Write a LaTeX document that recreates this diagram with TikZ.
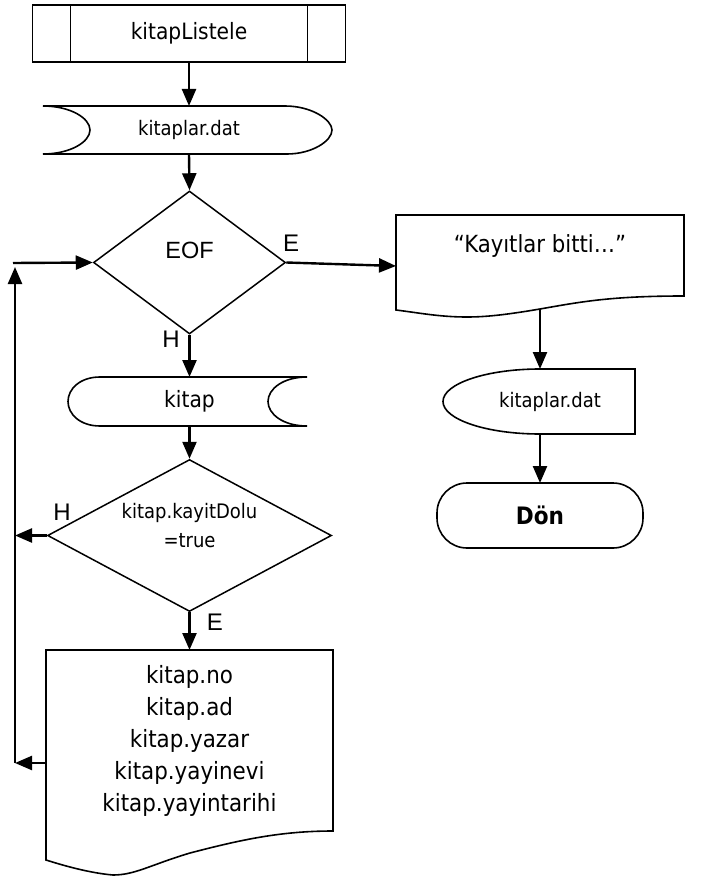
\documentclass[tikz,border=0pt]{standalone}
\usepackage{fontspec}
\setmainfont{DejaVu Sans Condensed}
\newfontfamily\arial{Liberation Sans}
\usetikzlibrary{arrows.meta,shapes.geometric}

\begin{document}
\begin{tikzpicture}[x=1pt,y=-1pt]
    \tikzset{sekil/.style = {draw,line width=1.6pt}}
    \tikzset{kutu/.style = {inner sep=0pt,outer sep=0pt}}
    \tikzset{karar/.style = {diamond,draw,line width=1.5pt,inner sep=0pt}}
    \tikzset{ok/.style = {-{Triangle[length=17pt,width=14pt]},line width=2.4pt}}
    \tikzset{yazi/.style = {font=\fontsize{#1pt}{#1pt}\selectfont}}
    \tikzset{etiket/.style = {inner sep=0pt,font=\arial\fontsize{24pt}{24pt}\selectfont}}
    \useasboundingbox (0,0) rectangle (723,877);
    % sekiller
    \node[kutu,sekil,minimum width=313pt,minimum height=57pt,yazi=22.5] (baslat) at (189,33.5) {kitapListele};
    \draw[sekil] ([xshift=38pt]baslat.north west) -- ([xshift=38pt]baslat.south west);
    \draw[sekil] ([xshift=-38pt]baslat.north east) -- ([xshift=-38pt]baslat.south east);
    \node[kutu,minimum width=289pt,minimum height=48pt,yazi=20] (dosya) at (189,130) {kitaplar.dat};
    \draw[sekil] (43,106) -- (285,106) .. controls (312,106) and (332,120) .. (332,130)
        .. controls (332,141) and (312,154) .. (287,154) -- (43,154)
        .. controls (70,154) and (90,142) .. (90,130) .. controls (90,118) and (70,106) .. cycle;
    \node[karar,minimum width=192pt,minimum height=143pt] (eof) at (189.5,262.5) {};
    \node[kutu,font=\arial\fontsize{23.5pt}{23.5pt}\selectfont] (eofyazi) at (189.5,250) {EOF};
    \node[kutu,minimum width=288pt,text height=37pt,text depth=45pt,yazi=23.6] (bitti) at (540,256) {“Kayıtlar bitti…”};
    \draw[sekil] (396,215) -- (684,215) -- (684,296) .. controls (610,296) and (580,302) .. (540,309)
        .. controls (505,315) and (485,317) .. (467,317) .. controls (440,317) and (420,313) .. (396,310) -- cycle;
    \node[kutu,minimum width=239pt,minimum height=49pt,yazi=22.5] (kitap) at (189.5,401.5) {kitap};
    \draw[sekil] (100,377) -- (307,377) .. controls (283,377) and (268,389) .. (268,401.5)
        .. controls (268,414) and (283,426) .. (307,426) -- (100,426)
        .. controls (80,426) and (68,414) .. (68,401.5) .. controls (68,389) and (80,377) .. cycle;
    \node[karar,minimum width=284pt,minimum height=152pt] (kayit) at (189.5,535.5) {};
    \node[kutu,align=center,font=\fontsize{20pt}{29pt}\selectfont] (kayityazi) at (189.5,526) {kitap.kayitDolu\\=true};
    \node[kutu,minimum width=287pt,minimum height=181pt,align=center,font=\fontsize{23.8pt}{32pt}\selectfont] (bilgi) at (189.5,740.5)
        {kitap.no\\kitap.ad\\kitap.yazar\\kitap.yayinevi\\kitap.yayintarihi};
    \draw[sekil] (46,650) -- (333,650) -- (333,831) .. controls (280,831) and (240,840) .. (190,853)
        .. controls (150,865) and (135,875) .. (113,875) .. controls (90,873) and (65,866) .. (46,860) -- cycle;
    \node[kutu,minimum width=190pt,minimum height=65pt,yazi=20] (dosya2) at (540,401.5) {\hspace*{20pt}kitaplar.dat};
    \draw[sekil] (540,369) -- (635,369) -- (635,434) -- (540,434)
        .. controls (486.4,434) and (443,419.4) .. (443,401.5) .. controls (443,383.6) and (486.4,369) .. cycle;
    \node[kutu,sekil,rounded corners=30pt,minimum width=206pt,minimum height=65pt,font=\bfseries\fontsize{24pt}{24pt}\selectfont] (don) at (540,515.5) {Dön};
    % etiketler
    \node[etiket] (e1) at (291,243) {E};
    \node[etiket] (h1) at (171,339) {H};
    \node[etiket] (h2) at (62,512) {H};
    \node[etiket] (e2) at (215,622) {E};
    % baglantilar
    \coordinate (donus) at (15,763);
    \coordinate (donusust) at (15,267);
    \coordinate (donusbas) at (13,263);
    \coordinate (dip) at (540,309);
    \draw[ok] (baslat.south) -- (dosya.north);
    \draw[ok] (dosya.south) -- (eof.north);
    \draw[ok] (eof.east) -- ([yshift=-10pt]bitti.west);
    \draw[ok] (eof.south) -- (kitap.north);
    \draw[ok] (kitap.south) -- (kayit.north);
    \draw[ok] (kayit.south) -- (bilgi.north);
    \draw[ok] (kayit.west) -- (kayit.west -| donus);
    \draw[ok] ([yshift=-22.5pt]bilgi.west) -- (donus);
    \draw[ok] (donus) -- (donusust);
    \draw[ok] (donusbas) -- (eof.west);
    \draw[ok] (dip) -- (dosya2.north);
    \draw[ok] (dosya2.south) -- (don.north);
\end{tikzpicture}
\end{document}
